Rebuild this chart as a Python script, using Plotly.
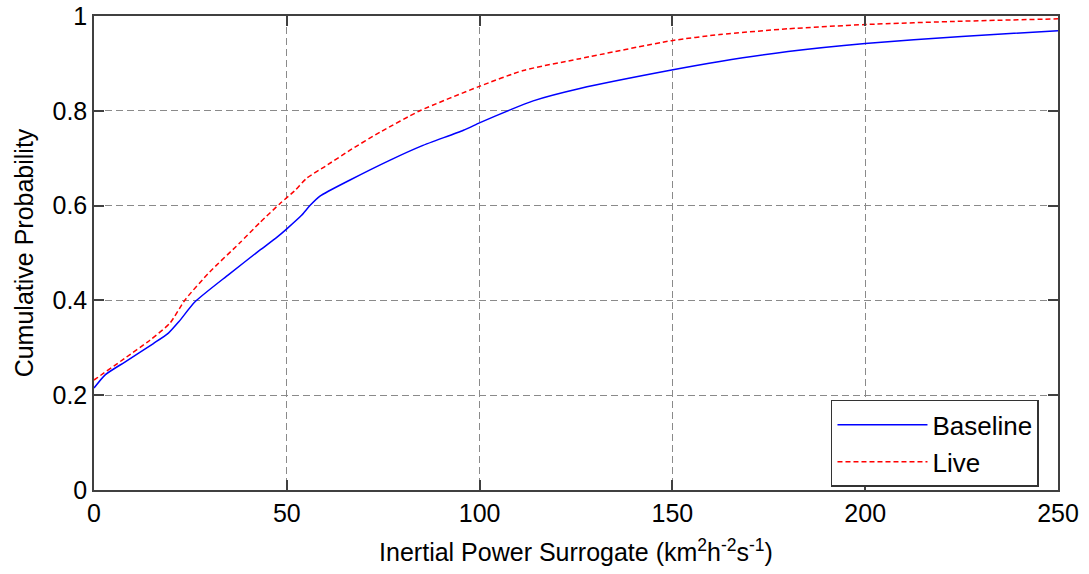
import plotly.graph_objects as go

# Baseline CDF
baseline_x = [0, 2.9, 8, 15.4, 19.3, 22, 26.2, 35, 43, 47.4, 50, 53.9, 56, 58.6, 66.4,
              76.8, 85, 95.8, 100.1, 107.9, 113.9, 126, 149.8, 162.3, 180, 200, 225, 250]
baseline_y = [0.215, 0.243, 0.270, 0.309, 0.331, 0.355, 0.397, 0.455, 0.506, 0.533, 0.551,
              0.580, 0.600, 0.620, 0.654, 0.696, 0.726, 0.759, 0.775, 0.802, 0.821, 0.847,
              0.886, 0.904, 0.925, 0.942, 0.957, 0.969]

# Live CDF
live_x = [0, 0.7, 8, 14.5, 19.7, 23.6, 30, 37.9, 43, 48.2, 52, 55.2, 60, 66.4, 74.2, 84.5,
          100.1, 111.3, 126, 149.8, 162.3, 180, 200, 225, 250]
live_y = [0.232, 0.236, 0.278, 0.316, 0.352, 0.401, 0.460, 0.522, 0.564, 0.604, 0.631,
          0.658, 0.683, 0.717, 0.755, 0.800, 0.852, 0.885, 0.910, 0.948, 0.961, 0.973,
          0.982, 0.989, 0.994]

x_ticks = [0, 50, 100, 150, 200, 250]
y_ticks = [0, 0.2, 0.4, 0.6, 0.8, 1]
y_tick_labels = ["0", "0.2", "0.4", "0.6", "0.8", "1"]

FONT = "Liberation Sans, Arial, sans-serif"

fig = go.Figure()
fig.add_trace(go.Scatter(x=baseline_x, y=baseline_y, mode="lines", name="Baseline",
                         line=dict(color="#0000FF", width=1.5, shape="spline", smoothing=0.6)))
fig.add_trace(go.Scatter(x=live_x, y=live_y, mode="lines", name="Live",
                         line=dict(color="#FF0000", width=1.5, dash="5px,3px",
                                   shape="spline", smoothing=0.6)))

axis_common = dict(
    showline=True, linecolor="#404040", linewidth=1.5, mirror="ticks",
    ticks="inside", ticklen=10, tickcolor="#404040", tickwidth=1.5,
    showgrid=True, gridcolor="#8a8a8a", gridwidth=1, griddash="7px,4px",
    zeroline=False, tickfont=dict(family=FONT, size=25, color="black"),
)

fig.update_xaxes(range=[0, 250], tickvals=x_ticks,
                 title=dict(text="Inertial Power Surrogate (km<sup>2</sup>h<sup>-2</sup>s<sup>-1</sup>)",
                            font=dict(family=FONT, size=25, color="black"), standoff=18),
                 **axis_common)
fig.update_yaxes(range=[0, 1], tickvals=y_ticks, ticktext=y_tick_labels,
                 title=dict(text="Cumulative Probability",
                            font=dict(family=FONT, size=25, color="black"), standoff=12),
                 **axis_common)

fig.update_layout(
    width=1089, height=574,
    margin=dict(l=94, r=31, t=16, b=84, autoexpand=False),
    plot_bgcolor="white", paper_bgcolor="white",
    font=dict(family=FONT, size=25, color="black"),
    showlegend=True,
    legend=dict(x=0.7645, y=0.19, xanchor="left", yanchor="top",
                bgcolor="white", bordercolor="#333333", borderwidth=1.5,
                font=dict(family=FONT, size=26, color="black"),
                itemwidth=90, tracegroupgap=0),
)

fig.write_html("out.html")
